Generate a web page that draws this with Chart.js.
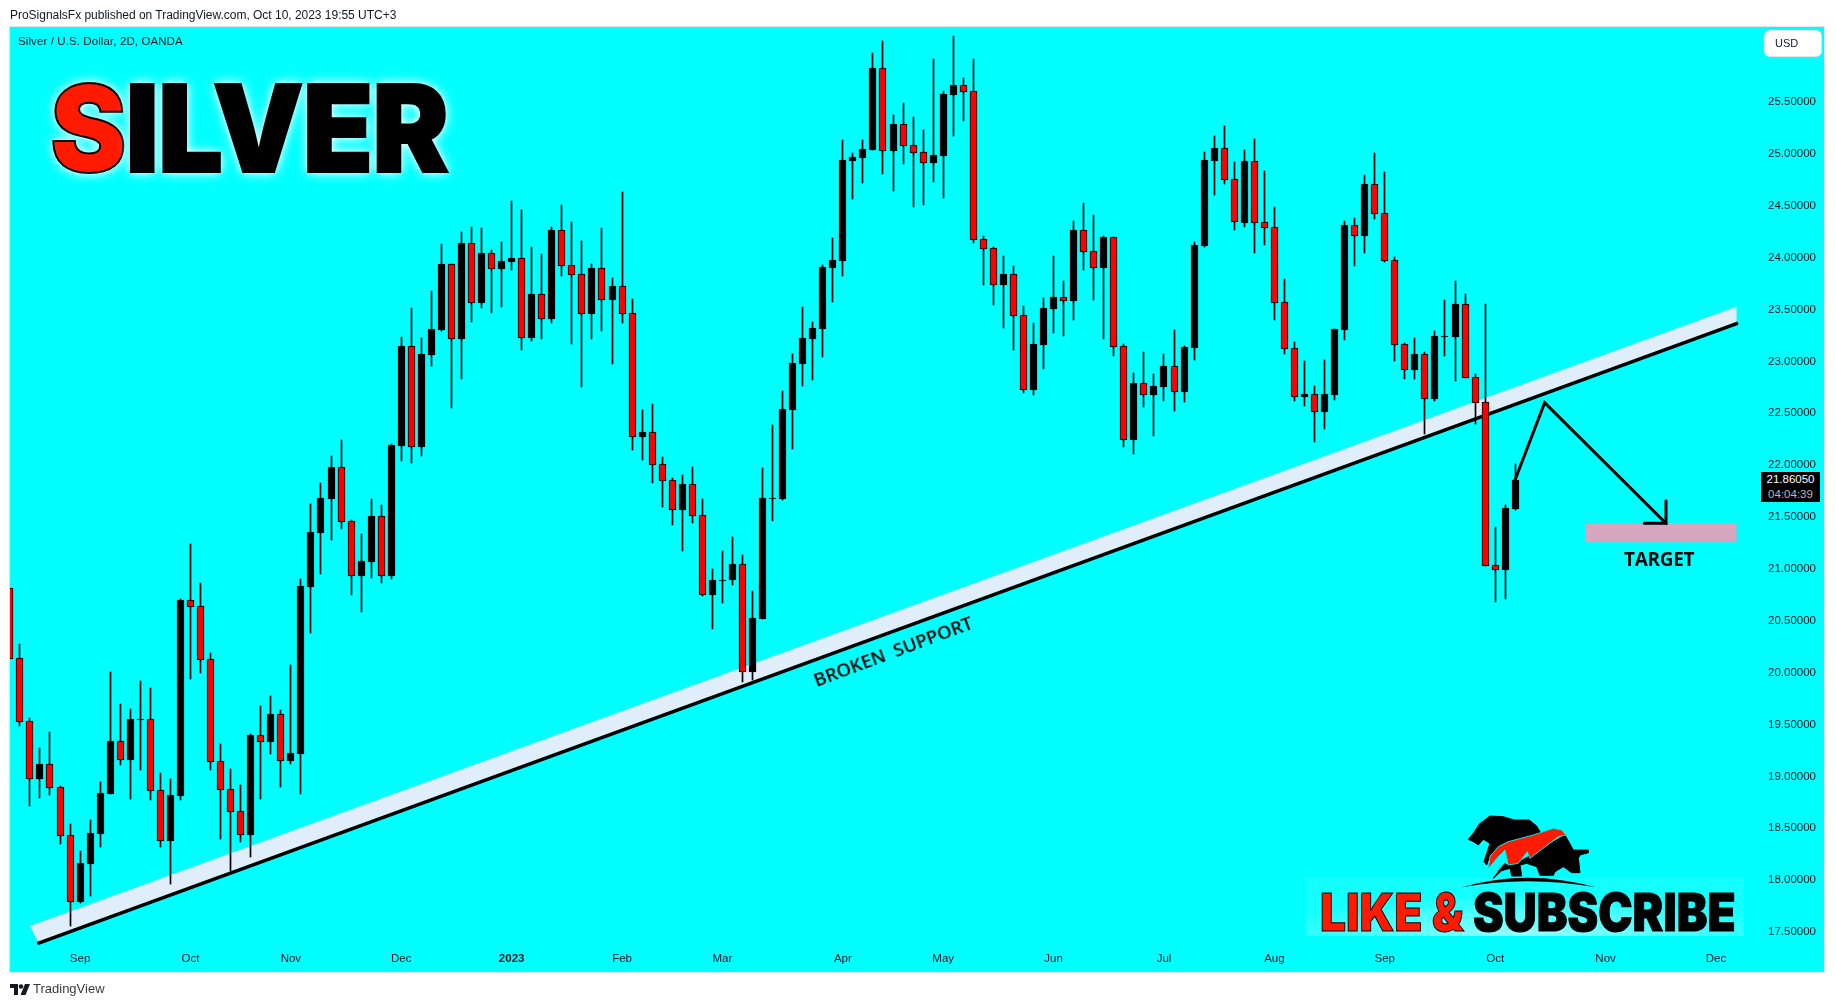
<!DOCTYPE html>
<html>
<head>
<meta charset="utf-8">
<title>Silver / U.S. Dollar</title>
<script src="https://cdn.jsdelivr.net/npm/chart.js@4"></script>
<style>
html, body { margin: 0; background: #fff; overflow: hidden; }
body { width: 1835px; height: 1008px; position: relative; font-family: "Liberation Sans", sans-serif; color: #131722; }
#panel { position: absolute; left: 9px; top: 26px; width: 1814px; height: 945px; background: #00ffff; border: 1px solid #dfe6ea; }
canvas { position: absolute; left: 0; top: 0; }
.txt { position: absolute; white-space: pre; }
#head { left: 10px; top: 8px; font-size: 12px; letter-spacing: -.02px; }
#sub { left: 18px; top: 35px; font-size: 11.5px; letter-spacing: .1px; }
#silver { left: 50px; top: 53px; font: 900 121px/150px Inter, sans-serif; color: #000; letter-spacing: -1px;
  -webkit-text-stroke: 2px #000; text-shadow: 0 0 9px #fff, 0 0 14px rgba(255,255,255,.7); transform: scaleX(.95); transform-origin: left center; }
#silver b { color: #ff1a00; font-weight: 900; }
#usd { position: absolute; left: 1765px; top: 31px; width: 56px; height: 25px; background: #fff; border-radius: 5px; box-shadow: 0 0 0 1px #e0e6ea; font-size: 11px; line-height: 25px; text-indent: 10px; }
#tag { position: absolute; left: 1761px; top: 472px; width: 59px; height: 30px; background: #000; font-size: 11.5px; line-height: 15px; text-align: center; color: #fff; }
#tag span { color: #b8b8b8; display: block; }
#target { left: 1624px; top: 547px; font: 700 19px/24px "Open Sans", sans-serif; color: #0a0a0a; letter-spacing: -.3px; }
#broken { left: 893px; top: 651px; font: 600 18.5px/20px "Open Sans", sans-serif; color: #050505; transform: translate(-50%, -50%) rotate(-20.5deg); }
#glow { position: absolute; left: 1306px; top: 878px; width: 438px; height: 58px;
  background: radial-gradient(ellipse 60% 70% at 50% 100%, rgba(255,255,255,.6), rgba(255,255,255,.25) 70%, rgba(255,255,255,.08)); }
#like { left: 1320px; top: 880px; font: 900 52px/66px Inter, sans-serif; color: #000; -webkit-text-stroke: 1px #000; transform: scaleX(.885); transform-origin: left center; }
#like b { color: #ff1a00; font-weight: 900; }
#logo { position: absolute; left: 1440px; top: 800px; }
#tvmark { position: absolute; left: 10px; top: 984px; }
#tvname { left: 33px; top: 981px; font-size: 13px; color: #3a3a3a; }
</style>
</head>
<body>
<div id="panel"></div>
<canvas id="chart" width="1835" height="1008"></canvas>
<div class="txt" id="head">ProSignalsFx published on TradingView.com, Oct 10, 2023 19:55 UTC+3</div>
<div class="txt" id="sub">Silver / U.S. Dollar, 2D, OANDA</div>
<div class="txt" id="silver"><b>S</b>ILVER</div>
<div id="usd">USD</div>
<div id="tag">21.86050<span>04:04:39</span></div>
<div class="txt" id="target">TARGET</div>
<div class="txt" id="broken">BROKEN  SUPPORT</div>
<div id="glow"></div>
<svg id="logo" width="170" height="100" viewBox="0 0 510 300">
  <path fill="#000" stroke="#000" stroke-width="3" stroke-linejoin="round" d="M85 118L100 100L118 72L150 48L190 50L222 60L268 60L290 78L303 100L250 112L200 125L175 140L150 165L140 195L132 185L150 130L130 118L115 135L100 125Z"/>
  <path fill="#000" stroke="#000" stroke-width="3" stroke-linejoin="round" d="M375 105L400 150L445 150L445 158L420 165L415 175L420 218L395 218L370 200L345 215L340 226L300 226L290 200L260 190L240 195L245 228L215 228L210 205L185 212L160 235L178 210L195 190L200 195L230 190L265 170Z"/>
  <path fill="#ff1a00" stroke="#00e6e6" stroke-width="3" d="M145 205L150 170L175 140L205 125L280 105L340 85L365 90L378 105L355 110L270 175L262 155L235 190L205 195L195 150L175 170Z"/>
  <path fill="#000" d="M65 262Q260 205 468 262Q260 225 65 262Z"/>
</svg>
<div class="txt" id="like"><b>LIKE &amp;</b> SUBSCRIBE</div>
<svg id="tvmark" width="20" height="12" viewBox="0 0 20 12">
  <path fill="#131722" d="M0 0H8V11H4V4H0Z"/><circle cx="11" cy="2.5" r="2.2" fill="#131722"/><path fill="#131722" d="M15 0H20L15.5 11H10.5Z"/>
</svg>
<div class="txt" id="tvname">TradingView</div>

<script>
// Precios de las velas, una por cada periodo de 2D
const opens = [
  20.813,20.138,19.531,18.975,19.116,18.898,18.432,17.789,18.159,18.448,
  18.833,19.338,19.158,19.545,19.550,18.866,18.380,18.814,20.697,20.639,
  20.128,19.145,18.875,18.663,18.438,19.396,19.335,19.598,19.148,19.216,
  20.829,21.349,21.677,21.979,21.458,20.935,21.070,21.506,20.935,22.185,
  23.145,22.178,23.062,23.303,23.936,23.216,24.138,23.566,24.042,23.891,
  23.958,23.994,23.229,23.647,23.409,24.263,23.926,23.839,23.457,23.897,
  23.592,23.724,23.463,22.271,22.316,22.007,21.853,21.567,21.815,21.516,
  20.748,20.891,20.892,21.043,20.006,20.517,21.675,21.673,22.531,22.974,
  23.215,23.312,23.900,23.967,24.931,24.960,25.037,25.824,25.027,25.284,
  25.082,25.014,24.912,24.979,25.567,25.660,25.602,24.176,24.089,23.736,
  23.839,23.443,22.724,23.157,23.504,23.617,23.582,24.263,24.060,23.900,
  24.195,23.145,22.243,22.789,22.676,22.753,22.953,22.705,23.129,24.113,
  24.932,25.054,24.755,24.334,24.929,24.341,24.292,23.570,23.126,22.657,
  22.683,22.512,22.676,23.303,24.312,24.209,24.707,24.427,23.974,23.165,
  22.917,23.068,22.637,23.236,23.235,23.550,22.846,22.605,21.034,20.989,21.577
];
const highs = [
  20.813,20.276,19.560,19.274,19.425,18.907,18.541,18.281,18.576,18.943,
  20.003,19.698,19.646,19.916,19.849,19.029,18.972,20.707,21.240,20.861,
  20.186,19.309,19.068,18.914,19.409,19.678,19.772,19.637,20.070,20.899,
  21.625,21.825,22.088,22.242,21.471,21.336,21.674,21.616,22.204,23.232,
  23.512,23.222,23.679,24.132,23.936,24.247,24.292,24.283,24.074,24.151,
  24.546,24.459,24.103,24.035,24.296,24.508,24.344,24.161,23.939,24.286,
  23.804,24.633,23.602,22.532,22.590,22.078,21.872,21.905,21.982,21.673,
  20.999,21.172,21.307,21.133,20.786,21.972,22.387,22.714,23.071,23.524,
  23.379,23.929,24.189,25.133,25.008,25.133,25.972,26.088,25.374,25.490,
  25.355,25.230,25.914,25.606,26.136,25.731,25.914,24.208,24.102,24.015,
  23.919,23.533,23.369,23.610,24.015,23.774,24.353,24.526,24.410,24.208,
  24.195,23.168,22.888,23.091,22.879,23.072,23.303,23.149,24.151,25.019,
  25.173,25.269,24.922,25.038,25.144,24.835,24.488,23.794,23.187,23.004,
  22.763,23.014,23.313,24.353,24.382,24.797,25.009,24.826,24.006,23.178,
  23.226,23.087,23.293,23.591,23.775,23.649,22.878,23.553,21.407,21.616,22.011
];
const lows = [
  20.135,19.489,18.718,18.795,18.821,18.351,17.561,17.780,17.850,18.319,
  18.833,19.110,18.785,19.065,18.776,18.323,17.966,18.776,19.939,19.996,
  19.065,18.400,18.091,18.371,18.226,18.785,19.219,18.901,19.119,18.833,
  20.385,20.954,21.282,21.384,20.751,20.584,20.912,20.867,20.902,22.040,
  22.024,22.092,22.959,23.293,22.554,22.830,23.383,23.518,23.467,23.528,
  23.881,23.110,23.197,23.216,23.370,23.823,23.168,22.753,23.216,23.293,
  22.975,23.370,22.146,22.050,21.828,21.596,21.423,21.172,21.442,20.738,
  20.420,20.671,20.844,19.909,19.929,20.517,21.461,21.664,22.155,22.762,
  22.820,23.042,23.572,23.822,24.565,24.719,25.037,24.806,24.642,24.902,
  24.488,24.507,24.729,24.574,25.172,25.316,24.141,23.736,23.543,23.321,
  23.109,22.695,22.675,22.926,23.273,23.244,23.398,23.880,23.591,23.215,
  23.051,22.175,22.108,22.561,22.281,22.618,22.522,22.609,23.014,24.103,
  24.604,24.710,24.267,24.296,24.045,24.122,23.399,23.072,22.618,22.570,
  22.223,22.349,22.628,23.206,23.920,24.045,24.373,23.958,23.004,22.831,
  22.831,22.300,22.618,23.052,22.811,22.843,22.396,21.031,20.681,20.710,21.567
];
const closes = [
  20.135,19.527,18.978,19.119,18.891,18.429,17.792,18.162,18.454,18.837,
  19.341,19.161,19.553,19.550,18.862,18.380,18.817,20.700,20.636,20.125,
  19.142,18.872,18.660,18.438,19.399,19.335,19.601,19.151,19.225,20.835,
  21.355,21.683,21.982,21.455,20.935,21.076,21.510,20.935,22.194,23.149,
  22.178,23.071,23.312,23.939,23.219,24.141,23.566,24.045,23.894,23.968,
  23.997,23.229,23.650,23.412,24.267,23.923,23.836,23.460,23.900,23.595,
  23.727,23.460,22.275,22.320,22.005,21.850,21.570,21.818,21.513,20.751,
  20.892,20.896,21.047,20.009,20.526,21.683,21.680,22.541,22.984,23.225,
  23.321,23.909,23.977,24.941,24.969,25.047,25.827,25.031,25.288,25.079,
  25.011,24.915,24.989,25.577,25.663,25.599,24.173,24.086,23.739,23.842,
  23.440,22.727,23.167,23.514,23.620,23.585,24.266,24.057,23.903,24.198,
  23.141,22.246,22.792,22.680,22.763,22.956,22.708,23.139,24.122,24.941,
  25.057,24.752,24.341,24.932,24.337,24.289,23.566,23.123,22.660,22.686,
  22.516,22.686,23.313,24.315,24.212,24.710,24.424,23.971,23.161,22.921,
  23.072,22.640,23.244,23.241,23.553,22.843,22.602,21.031,20.992,21.587,21.856
];

// Ejes: posicion de cada mes en numero de vela y etiquetas de precio
const monthTicks = [7, 18, 28, 39, 50, 61, 71, 83, 93, 104, 115, 126, 137, 148, 159, 170];
const monthLabels = ['Sep', 'Oct', 'Nov', 'Dec', '2023', 'Feb', 'Mar', 'Apr', 'May', 'Jun', 'Jul', 'Aug', 'Sep', 'Oct', 'Nov', 'Dec'];
const priceTicks = [17.5, 18, 18.5, 19, 19.5, 20, 20.5, 21, 21.5, 22, 22.5, 23, 23.5, 24, 24.5, 25, 25.5];

// Dibujos sobre el grafico, en [vela, precio]
const supportBand = [[2.01, 17.558], [172.05, 23.527], [172.05, 23.365], [2.87, 17.394]];
const supportLine = [[2.87, 17.394], [172.05, 23.365]];
const targetZone = [[156.98, 21.435], [172.05, 21.435], [172.05, 21.256], [156.98, 21.256]];
const arrowPath = [[149.98, 21.857], [152.93, 22.602], [165.02, 21.439]];
const arrowHead = [[162.86, 21.439], [165.02, 21.439], [165.02, 21.657]];

const toPoints = arr => arr.map(p => ({ x: p[0], y: p[1] }));
const closed = arr => toPoints(arr.concat([arr[0]]));
const isUp = i => closes[i] > opens[i];

// Ajusta las velas a pixeles enteros para que se vean nitidas
const snapBars = {
    id: 'snapBars',
    afterDatasetsUpdate(chart) {
        chart.getSortedVisibleDatasetMetas().forEach(meta => {
            if (meta.type !== 'bar') return;
            meta.data.forEach(el => {
                el.x = Math.floor(el.x) + 0.5;
                el.y = Math.round(el.y);
                el.base = Math.round(el.base);
                if (el.base - el.y < 1) el.base = el.y + 1;
                el.height = el.base - el.y;
            });
        });
    }
};

const shape = (data, color, order) => ({
    type: 'line', data: closed(data), fill: 'shape', backgroundColor: color,
    borderWidth: 0, pointRadius: 0, tension: 0, order: order
});
const stroke = (data, width, order) => ({
    type: 'line', data: toPoints(data), fill: false, borderColor: '#000', borderWidth: width,
    borderCapStyle: 'round', borderJoinStyle: 'miter', pointRadius: 0, tension: 0, order: order
});

new Chart(document.getElementById('chart'), {
    type: 'bar',
    data: {
        datasets: [
            shape(supportBand, '#dfeefa', 5),
            shape(targetZone, '#d6a6bf', 5),
            stroke(supportLine, 3.5, 4),
            {
                label: 'Mechas',
                data: lows.map((l, i) => ({ x: i, y: [l, highs[i]] })),
                backgroundColor: '#000',
                barThickness: 1,
                order: 3
            },
            {
                label: 'Cuerpos',
                data: opens.map((o, i) => ({ x: i, y: [o, closes[i]] })),
                backgroundColor: opens.map((o, i) => isUp(i) ? '#000' : '#ff0000'),
                borderColor: '#000',
                borderWidth: 1,
                borderSkipped: false,
                barThickness: 7,
                order: 2
            },
            stroke(arrowPath, 3, 1),
            stroke(arrowHead, 3, 1)
        ]
    },
    options: {
        responsive: false,
        animation: false,
        events: [],
        layout: { padding: { left: 10, top: 27 } },
        plugins: { legend: { display: false }, tooltip: { enabled: false } },
        scales: {
            x: {
                type: 'linear',
                stacked: true,
                offset: false,
                min: 0.015,
                max: 174.387,
                grid: { display: false, drawTicks: false },
                border: { display: false },
                afterFit(scale) { scale.height = 60; },
                afterBuildTicks(scale) { scale.ticks = monthTicks.map(v => ({ value: v })); },
                ticks: {
                    autoSkip: false,
                    maxRotation: 0,
                    padding: 4,
                    color: '#131722',
                    font: ctx => ({ family: '"Liberation Sans", sans-serif', size: 11.5, weight: monthLabels[ctx.index] === '2023' ? 'bold' : 'normal' }),
                    callback: (v, i) => monthLabels[i]
                }
            },
            y: {
                position: 'right',
                min: 17.346,
                max: 26.223,
                grid: { display: false, drawTicks: false },
                border: { display: false },
                afterFit(scale) { scale.width = 75; },
                afterBuildTicks(scale) { scale.ticks = priceTicks.map(v => ({ value: v })); },
                ticks: {
                    autoSkip: false,
                    padding: 8,
                    color: '#131722',
                    font: { family: '"Liberation Sans", sans-serif', size: 11.5 },
                    callback: v => v.toFixed(5)
                }
            }
        }
    },
    plugins: [snapBars]
});
</script>
</body>
</html>
